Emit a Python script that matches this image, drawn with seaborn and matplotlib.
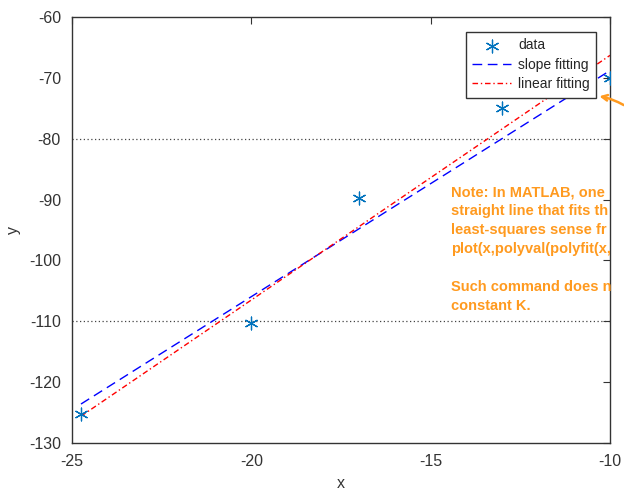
import numpy as np
import matplotlib
matplotlib.use("Agg")
import matplotlib.pyplot as plt
import seaborn as sns

# data
x_data = [-24.75, -20, -17, -13, -10]
y_data = [-125.2, -110.3, -89.8, -75.0, -70.0]

# fitted lines (end points)
x_fit = [-24.75, -10]
y_slope = [-123.6, -68.8]
y_linear = [-125.6, -66.3]

x_ticks = [-25, -20, -15, -10]
y_ticks = [-130, -120, -110, -100, -90, -80, -70, -60]
y_hlines = [-80, -110]

# note is cut at the right edge of the picture, as in the original
note = ("Note: In MATLAB, one\n"
        "straight line that fits th\n"
        "least-squares sense fr\n"
        "plot(x,polyval(polyfit(x,\n"
        "\n"
        "Such command does n\n"
        "constant K.")

sns.set_style("white")
plt.rcParams['font.family'] = ['Liberation Sans', 'DejaVu Sans']
plt.rcParams['axes.unicode_minus'] = False

fig = plt.figure(figsize=(6.24, 4.96), dpi=100)
ax = fig.add_axes([0.1154, 0.1069, 0.8622, 0.8588])

for h in y_hlines:
    ax.axhline(h, color="#444444", linestyle=(0, (1, 2)), linewidth=0.9, zorder=0)

sns.scatterplot(x=x_data, y=y_data, ax=ax, marker=(6, 2, 0), s=85,
                color="#0072BD", edgecolor="#0072BD", linewidth=0.9, label="data", zorder=3)
sns.lineplot(x=x_fit, y=y_slope, ax=ax, color="blue", linestyle=(0, (7, 4)),
             linewidth=1.0, label="slope fitting")
sns.lineplot(x=x_fit, y=y_linear, ax=ax, color="red", linestyle=(0, (4, 2, 1, 2)),
             linewidth=1.0, label="linear fitting")

ax.set_xlim(-25, -10)
ax.set_ylim(-130, -60)
ax.set_xticks(x_ticks)
ax.set_yticks(y_ticks)
ax.set_xlabel("x", fontsize=11.5, color="#333333", labelpad=5)
ax.set_ylabel("y", fontsize=11.5, color="#333333", labelpad=6)
ax.tick_params(direction="in", length=5, top=True, right=True, labelsize=11.5,
               colors="#333333", pad=8)
for sp in ax.spines.values():
    sp.set_color("#333333")
    sp.set_linewidth(1.0)

leg = ax.legend(loc="upper right", bbox_to_anchor=(0.974, 0.965), borderaxespad=0,
                fancybox=False, framealpha=1, edgecolor="#333333", fontsize=10,
                handlelength=2.8, handletextpad=0.5, labelspacing=0.4,
                borderpad=0.45)
leg.get_frame().set_linewidth(1.0)

ax.text(0.705, 0.605, note, transform=ax.transAxes, color="#FF9A1F", fontsize=10.5,
        fontweight="bold", va="top", ha="left", linespacing=1.45, clip_on=False)

ax.annotate("", xy=(0.975, 0.815), xytext=(1.03, 0.79), xycoords="axes fraction",
            arrowprops=dict(arrowstyle="->", color="#FF9A1F", lw=1.8,
                            connectionstyle="arc3,rad=0.1"),
            annotation_clip=False)

fig.savefig("out.png", dpi=100)
